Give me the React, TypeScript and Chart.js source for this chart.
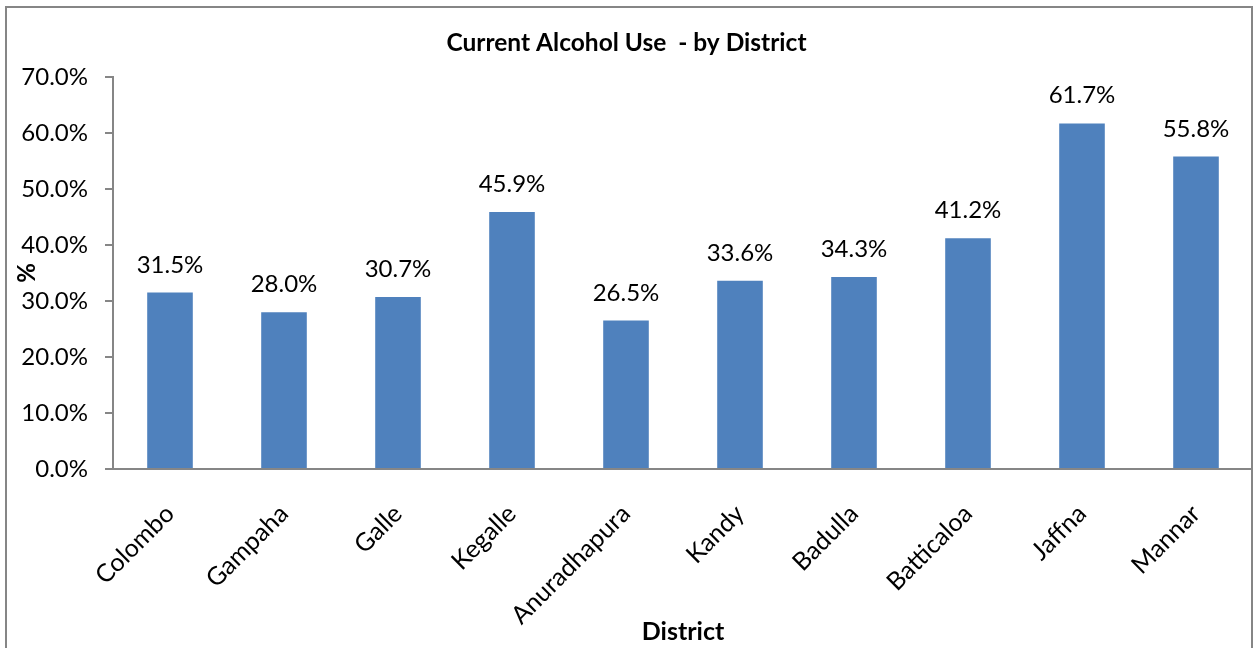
import React, { useEffect, useRef } from 'react';
import { Chart, registerables } from 'chart.js';

Chart.register(...registerables);

const chartTitle = 'Current Alcohol Use  - by District';
const xAxisTitle = 'District';
const yAxisTitle = '%';
const categories = ['Colombo', 'Gampaha', 'Galle', 'Kegalle', 'Anuradhapura', 'Kandy', 'Badulla', 'Batticaloa', 'Jaffna', 'Mannar'];
const values = [31.5, 28.0, 30.7, 45.9, 26.5, 33.6, 34.3, 41.2, 61.7, 55.8];
const yMin = 0;
const yMax = 70;
const yStep = 10;

const FONT = 'Lato';
const AXIS_GRAY = '#868686';
const BAR_BLUE = '#4F81BD';

const barLabelPlugin = {
  id: 'barLabels',
  afterDatasetsDraw(chart: any) {
    const ctx = chart.ctx;
    const meta = chart.getDatasetMeta(0);
    ctx.save();
    ctx.font = `24px ${FONT}`;
    ctx.fillStyle = '#000';
    ctx.textAlign = 'center';
    ctx.textBaseline = 'alphabetic';
    meta.data.forEach((bar: any, i: number) => {
      ctx.fillText(values[i].toFixed(1) + '%', bar.x, bar.y - 20);
    });
    ctx.restore();
  },
};

export default function App() {
  const canvasRef = useRef<HTMLCanvasElement | null>(null);

  useEffect(() => {
    const canvas = canvasRef.current;
    if (!canvas) return;
    const chart = new Chart(canvas, {
      type: 'bar',
      data: {
        labels: categories,
        datasets: [
          {
            data: values,
            backgroundColor: BAR_BLUE,
            borderWidth: 0,
            categoryPercentage: 1,
            barPercentage: 0.4,
          },
        ],
      },
      options: {
        responsive: false,
        animation: false,
        devicePixelRatio: 1,
        layout: { padding: 0 },
        plugins: {
          legend: { display: false },
          tooltip: { enabled: false },
          title: {
            display: true,
            text: chartTitle,
            color: '#000',
            font: { family: FONT, size: 24.5, weight: 'bold' },
            padding: { top: 28, bottom: 19.6 },
          },
        },
        scales: {
          x: {
            grid: { display: false, drawTicks: false },
            border: { display: true, color: AXIS_GRAY, width: 2 },
            ticks: {
              color: '#000',
              font: { family: FONT, size: 25 },
              maxRotation: 45,
              minRotation: 45,
              autoSkip: false,
              padding: 30,
            },
            title: {
              display: true,
              text: xAxisTitle,
              color: '#000',
              font: { family: FONT, size: 25, weight: 'bold' },
              padding: { top: 0, bottom: 1 },
            },
            afterFit: (scale: any) => {
              scale.height = 179;
            },
          },
          y: {
            min: yMin,
            max: yMax,
            grid: {
              display: true,
              drawOnChartArea: false,
              drawTicks: true,
              tickLength: 8,
              color: AXIS_GRAY,
              lineWidth: 2,
            },
            border: { display: true, color: AXIS_GRAY, width: 2 },
            ticks: {
              stepSize: yStep,
              color: '#000',
              font: { family: FONT, size: 24 },
              padding: 17,
              callback: (v: any) => Number(v).toFixed(1) + '%',
            },
            title: {
              display: true,
              text: yAxisTitle,
              color: '#000',
              font: { family: FONT, size: 24, weight: 'bold' },
              padding: { top: 13, bottom: 0 },
            },
            afterFit: (scale: any) => {
              scale.width = 113;
            },
          },
        },
      },
      plugins: [barLabelPlugin],
    });
    return () => chart.destroy();
  }, []);

  return (
    <div
      style={{
        position: 'fixed',
        left: 0,
        top: 0,
        width: 1253,
        height: 648,
        overflow: 'hidden',
        background: '#fff',
      }}
    >
      <div
        style={{
          position: 'absolute',
          left: 5,
          top: 6,
          width: 1244,
          height: 700,
          border: `2px solid ${AXIS_GRAY}`,
        }}
      />
      <canvas
        ref={canvasRef}
        width={1253}
        height={648}
        style={{ position: 'absolute', left: 0, top: 0, display: 'block' }}
      />
    </div>
  );
}
